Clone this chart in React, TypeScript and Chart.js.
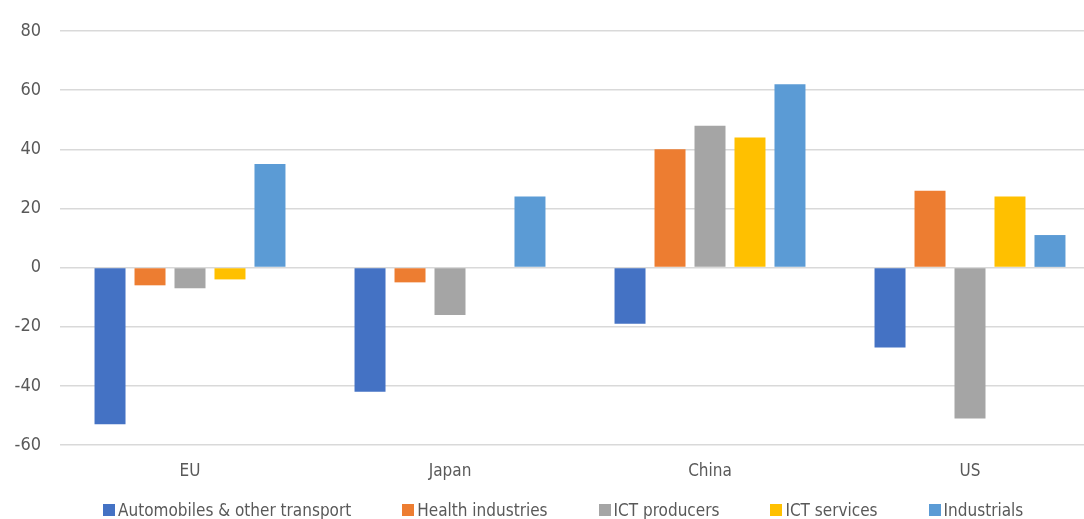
import React, { useEffect, useRef } from "react";
import { Chart, registerables } from "chart.js";

Chart.register(...registerables);

const categories = ["EU", "Japan", "China", "US"];
const seriesNames = [
  "Automobiles & other transport",
  "Health industries",
  "ICT producers",
  "ICT services",
  "Industrials",
];
const automobiles = [-53, -42, -19, -27];
const health = [-6, -5, 40, 26];
const ictProducers = [-7, -16, 48, -51];
const ictServices = [-4, 0, 44, 24];
const industrials = [35, 24, 62, 11];
const colors = ["#4472C4", "#ED7D31", "#A5A5A5", "#FFC000", "#5B9BD5"];
const yTicks = [-60, -40, -20, 0, 20, 40, 60, 80];

const FONT = "'Liberation Sans Narrow', 'DejaVu Sans Condensed', 'Open Sans', sans-serif";
const TEXT = "#595959";

export default function App() {
  const ref = useRef<HTMLCanvasElement | null>(null);
  useEffect(() => {
    if (!ref.current) return;
    const values = [automobiles, health, ictProducers, ictServices, industrials];
    const chart = new Chart(ref.current, {
      type: "bar",
      data: {
        labels: categories,
        datasets: seriesNames.map((name, i) => ({
          label: name,
          data: values[i],
          backgroundColor: colors[i],
          borderWidth: 0,
          categoryPercentage: 0.769,
          barPercentage: 0.775,
        })),
      },
      options: {
        animation: false,
        responsive: false,
        layout: { padding: { left: 0, right: 10, top: 31, bottom: 0 } },
        plugins: {
          tooltip: { enabled: false },
          legend: { display: false },
        },
        scales: {
          x: {
            grid: { display: false, drawTicks: false },
            border: { display: false },
            ticks: { color: TEXT, font: { family: FONT, size: 17 }, padding: 16 },
            afterFit: (s: any) => { s.height = 74; },
          },
          y: {
            min: -60,
            max: 80,
            afterBuildTicks: (s: any) => { s.ticks = yTicks.map((v) => ({ value: v })); },
            grid: { color: "#D9D9D9", lineWidth: 1.4, drawTicks: false },
            border: { display: false },
            ticks: {
              color: TEXT,
              font: { family: FONT, size: 18 },
              padding: 19,
              callback: (v: any) => (Number(v) < 0 ? "-" + Math.abs(Number(v)) : String(v)),
            },
            afterFit: (s: any) => { s.width = 60; },
          },
        },
      },
    });
    return () => chart.destroy();
  }, []);
  return (
    <div style={{ position: "absolute", left: 0, top: 0, width: 1084, height: 519, overflow: "hidden", background: "#fff" }}>
      <canvas ref={ref} width={1110} height={519} style={{ display: "block" }} />
      <div
        style={{
          position: "absolute",
          left: 103,
          top: 500,
          height: 20,
          display: "flex",
          alignItems: "center",
          whiteSpace: "nowrap",
          fontFamily: FONT,
          fontSize: 17,
          lineHeight: "20px",
          color: TEXT,
        }}
      >
        {seriesNames.map((name, i) => (
          <div key={name} style={{ display: "flex", alignItems: "center", marginRight: i < seriesNames.length - 1 ? 51 : 0 }}>
            <span style={{ display: "inline-block", width: 12, height: 12, background: colors[i], marginRight: 3 }} />
            <span>{name}</span>
          </div>
        ))}
      </div>
    </div>
  );
}
